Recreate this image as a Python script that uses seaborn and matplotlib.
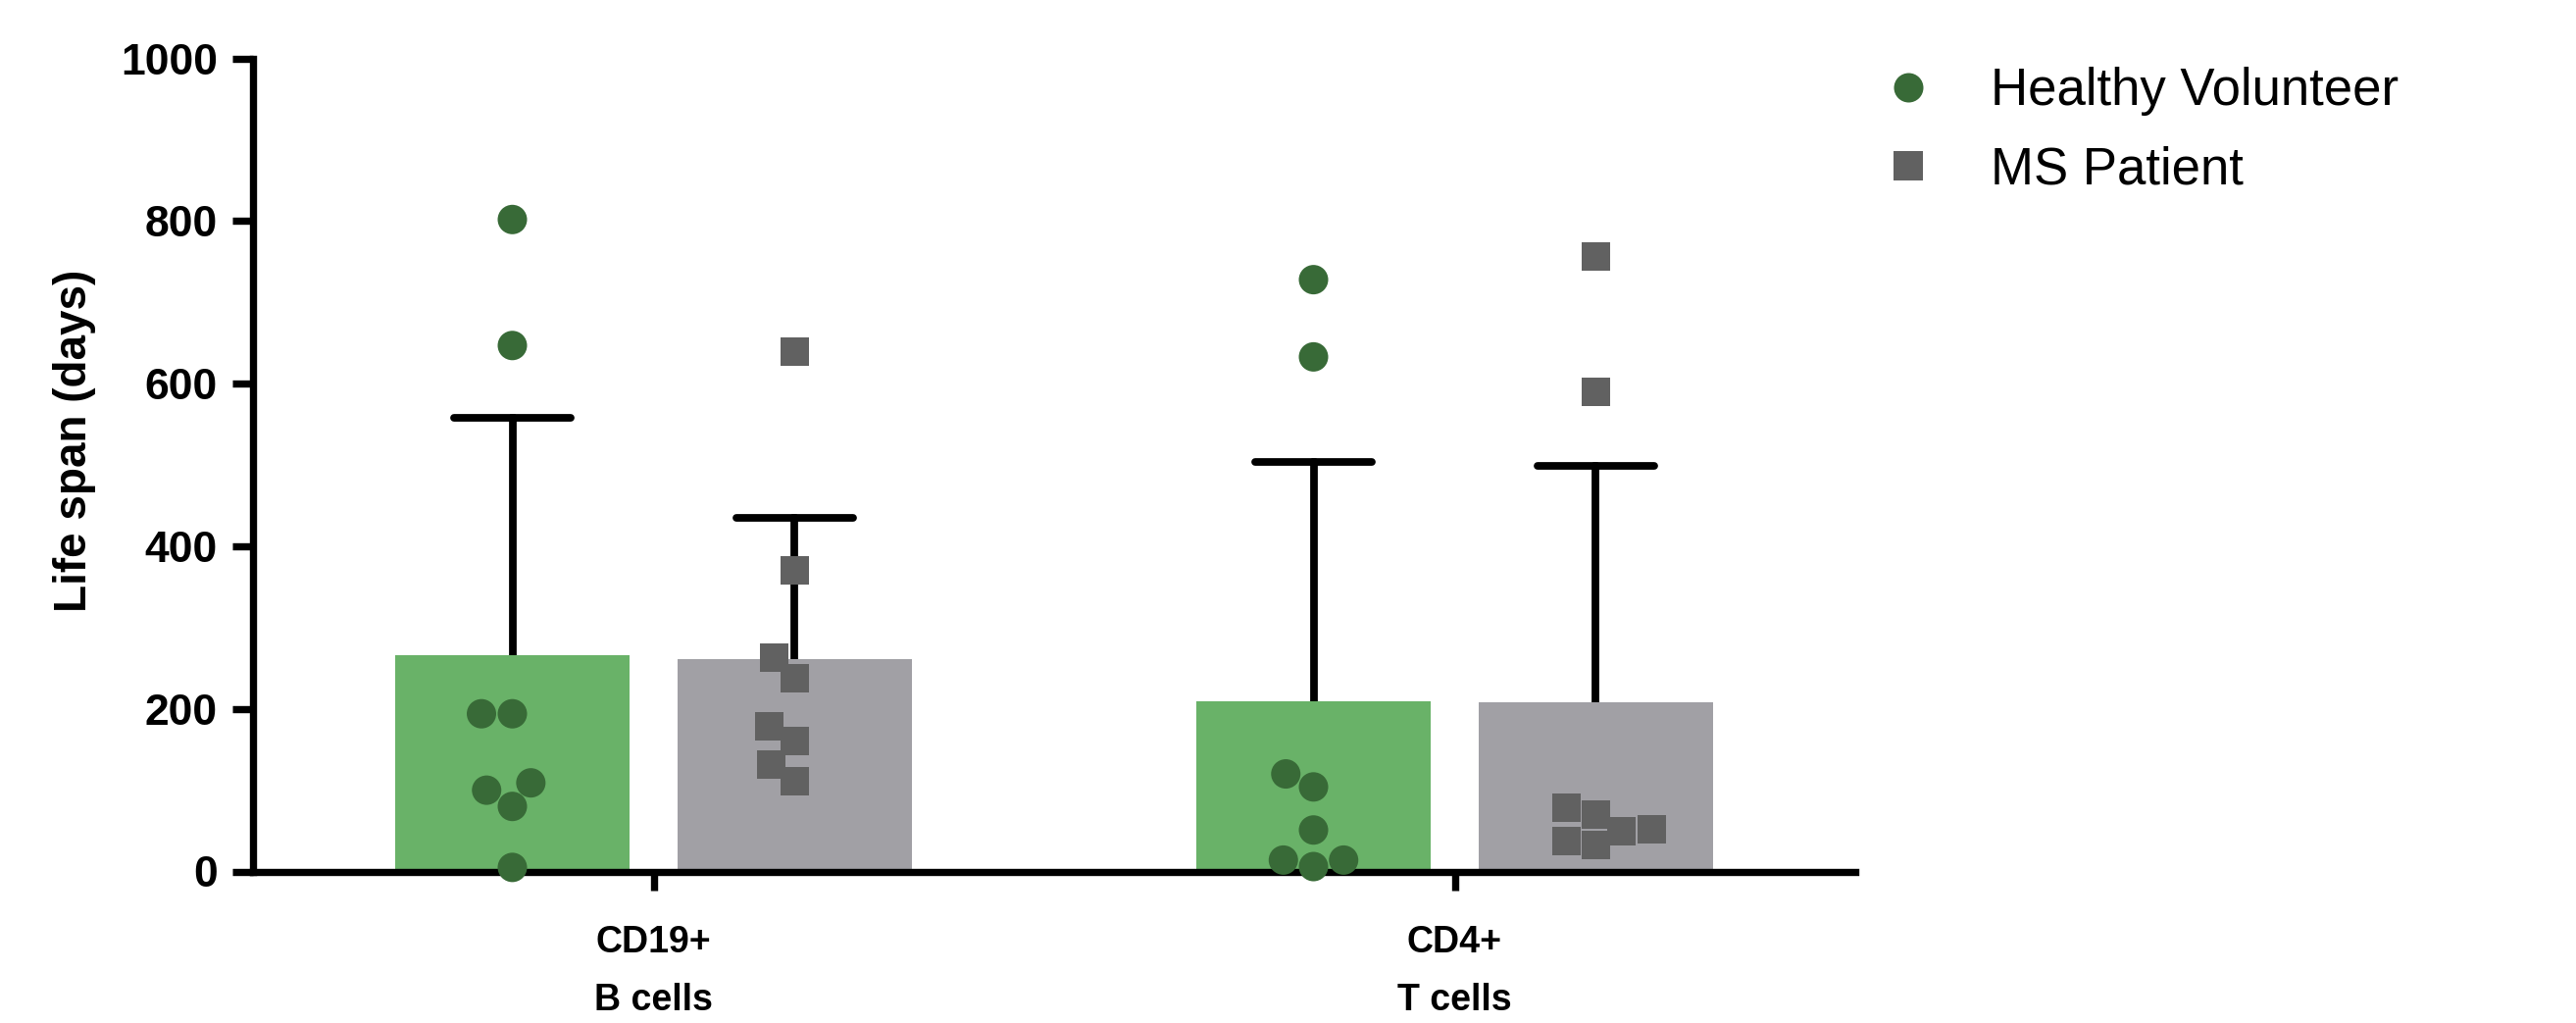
import numpy as np
import pandas as pd
import matplotlib
matplotlib.use("Agg")
import matplotlib.pyplot as plt
import matplotlib.transforms as mtransforms
from matplotlib.lines import Line2D
import seaborn as sns

# ---------------- data ----------------
cell_types = ["CD19+\nB cells", "CD4+\nT cells"]
groups = ["Healthy Volunteer", "MS Patient"]

hv_cd19 = [802, 647, 194, 194, 109, 100, 80, 5]
ms_cd19 = [639, 370, 263, 238, 179, 161, 132, 111]
hv_cd4 = [728, 633, 120, 104, 51, 14, 14, 6]
ms_cd4 = [756, 590, 78, 70, 52, 50, 37, 32]

y_ticks = [0, 200, 400, 600, 800, 1000]
y_label = "Life span (days)"

# ---------------- styles ----------------
bar_colors = ["#69B268", "#A1A0A5"]
point_colors = ["#386A37", "#616161"]

rows = []
for cell, grp, vals in [
    (cell_types[0], groups[0], hv_cd19),
    (cell_types[0], groups[1], ms_cd19),
    (cell_types[1], groups[0], hv_cd4),
    (cell_types[1], groups[1], ms_cd4),
]:
    for v in vals:
        rows.append({"cell": cell, "group": grp, "value": v})
df = pd.DataFrame(rows)

sns.set_style("ticks")
plt.rcParams["font.family"] = ["Liberation Sans", "DejaVu Sans"]
plt.rcParams["text.color"] = "black"
plt.rcParams["axes.labelcolor"] = "black"

W, H = 2627, 1043
fig = plt.figure(figsize=(W / 100, H / 100), dpi=100)
ax = fig.add_axes([258 / W, 1 - 888.5 / H, (1892 - 258) / W, (888.5 - 59.7) / H])

sns.barplot(
    data=df, x="cell", y="value", hue="group",
    order=cell_types, hue_order=groups, palette=bar_colors,
    errorbar="sd", capsize=0.29, width=0.705, gap=0.167,
    linewidth=0, saturation=1, legend=False,
    err_kws={"color": "black", "linewidth": 5.6, "zorder": 0.5},
    ax=ax,
)

bar_centers = [p.get_x() + p.get_width() / 2 for p in ax.patches]

n_before = len(ax.collections)
for grp, mk, sz in [
    (groups[0], "o", 21.6),
    (groups[1], "s", 20.9),
]:
    sns.swarmplot(
        data=df[df["group"] == grp], x="cell", y="value", hue="group",
        order=cell_types, hue_order=groups, dodge=True,
        palette=[point_colors[0], point_colors[1]], marker=mk, size=sz,
        linewidth=0, legend=False, ax=ax, zorder=3, clip_on=False,
    )

# align each swarm with its own bar
for coll in ax.collections[n_before:]:
    offs = coll.get_offsets()
    if len(offs) == 0:
        continue
    c = float(np.asarray(offs)[0, 0])
    nearest = min(bar_centers, key=lambda b: abs(b - c))
    delta = nearest - c
    coll.set_offset_transform(mtransforms.Affine2D().translate(delta, 0) + ax.transData)

ax.set_xlim(-0.5, 1.5)
ax.set_ylim(0, 1000)
ax.set_yticks(y_ticks)
ax.set_xlabel("")
ax.set_ylabel(y_label, fontsize=33, fontweight="bold", color="black")
ax.yaxis.set_label_coords(-0.098, 0.53)

for side in ["top", "right"]:
    ax.spines[side].set_visible(False)
for side in ["left", "bottom"]:
    ax.spines[side].set_linewidth(5.3)
    ax.spines[side].set_color("black")

ax.tick_params(axis="y", labelsize=32, width=5.3, length=15, pad=11,
               colors="black", labelcolor="black")
ax.tick_params(axis="x", labelsize=27, width=5.3, length=14, pad=25,
               colors="black", labelcolor="black")
for t in ax.get_yticklabels():
    t.set_fontweight("bold")
for t in ax.get_xticklabels():
    t.set_fontweight("bold")
    t.set_linespacing(1.85)

handles = [
    Line2D([], [], linestyle="none", marker="o", markersize=21.6,
           markerfacecolor=point_colors[0], markeredgewidth=0),
    Line2D([], [], linestyle="none", marker="s", markersize=20.9,
           markerfacecolor=point_colors[1], markeredgewidth=0),
]
leg = fig.legend(
    handles, groups, loc="upper left",
    bbox_to_anchor=(1919.6 / W, 1 - 68 / H), bbox_transform=fig.transFigure,
    frameon=False, fontsize=38, handlelength=1.0, handletextpad=1.1,
    labelspacing=0.58, borderpad=0, borderaxespad=0,
)
for t in leg.get_texts():
    t.set_color("black")

fig.savefig("out.png", dpi=100)
